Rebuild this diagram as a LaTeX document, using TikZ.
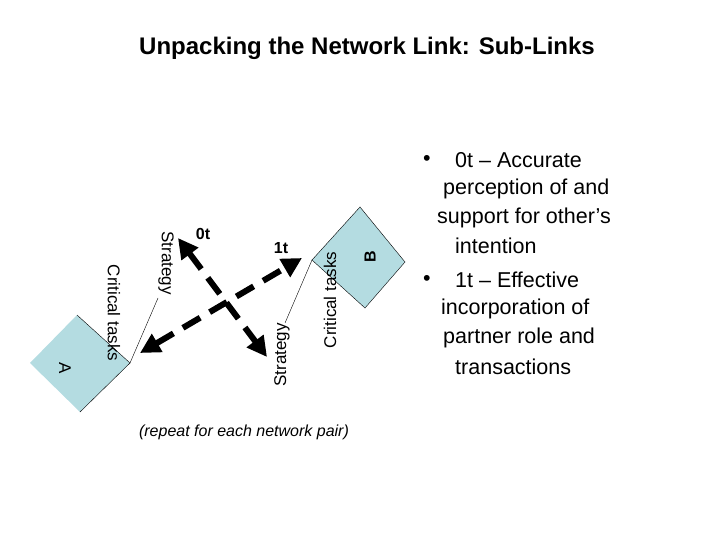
\documentclass[tikz,border=0pt]{standalone}
\usepackage{fontspec}
\setmainfont{Liberation Sans}
\usetikzlibrary{arrows.meta}
\begin{document}
\begin{tikzpicture}[x=1pt,y=-1pt,
  lab/.style={font=\fontsize{17}{20}\selectfont,inner sep=0pt},
  dsh/.style={line width=6pt,dash pattern=on 20pt off 11pt,{Triangle[length=20pt,width=20pt]}-{Triangle[length=20pt,width=20pt]}},
  bl/.style={font=\fontsize{21.5}{26}\selectfont,anchor=west,inner sep=0pt}]
\useasboundingbox (0,0) rectangle (720,540);
\node[font=\bfseries\fontsize{24}{28}\selectfont] (title) at (367,48) {Unpacking the Network Link: Sub-Links};
\fill[fill={rgb,255:red,180;green,220;blue,225}] (77,315) -- (130,363) -- (80,412) -- (30,363) -- cycle;
\draw (77,315) -- (130,363) -- (80,412);
\fill[fill={rgb,255:red,180;green,220;blue,225}] (360,207) -- (405,262) -- (365,308) -- (312,260) -- cycle;
\draw (312,260) -- (360,207) -- (405,262) -- (365,308) -- cycle;
\coordinate (Ar) at (130,363);
\coordinate (Bl) at (312,260);
\coordinate (s1) at (158,298);
\coordinate (s2) at (285,323);
\draw (Ar) -- (s1);
\draw (Bl) -- (s2);
\node[lab,rotate=-90] (A) at (65,368) {A};
\node[lab,rotate=90,font=\bfseries\fontsize{16}{20}\selectfont] (B) at (370,257) {B};
\node[lab,rotate=-90] (ct1) at (114,313) {Critical tasks};
\node[lab,rotate=-90] (st1) at (166,263) {Strategy};
\node[lab,rotate=90] (ct2) at (330,300) {Critical tasks};
\node[lab,rotate=90] (st2) at (282,355) {Strategy};
\node[lab,font=\bfseries\fontsize{16}{20}\selectfont] (l0) at (203,234) {0t};
\node[lab,font=\bfseries\fontsize{16}{20}\selectfont] (l1) at (281,248) {1t};
\coordinate (a1) at (140,353);
\coordinate (a2) at (302,258);
\coordinate (b1) at (178,238);
\coordinate (b2) at (267,357);
\draw[dsh] (a1) -- (a2);
\draw[dsh] (b1) -- (b2);
\node[font=\itshape\fontsize{16}{19}\selectfont] (rep) at (244,432) {(repeat for each network pair)};
\node[bl] (d1) at (423,160) {•};
\node[bl] (t1) at (455,160) {0t – Accurate};
\node[bl] (t2) at (443,189) {perception of and};
\node[bl] (t3) at (437,218) {support for other’s};
\node[bl] (t4) at (455,246) {intention};
\node[bl] (d2) at (423,280) {•};
\node[bl] (t5) at (455,280) {1t – Effective};
\node[bl] (t6) at (441,309) {incorporation of};
\node[bl] (t7) at (443,338) {partner role and};
\node[bl] (t8) at (455,367) {transactions};
\end{tikzpicture}
\end{document}
